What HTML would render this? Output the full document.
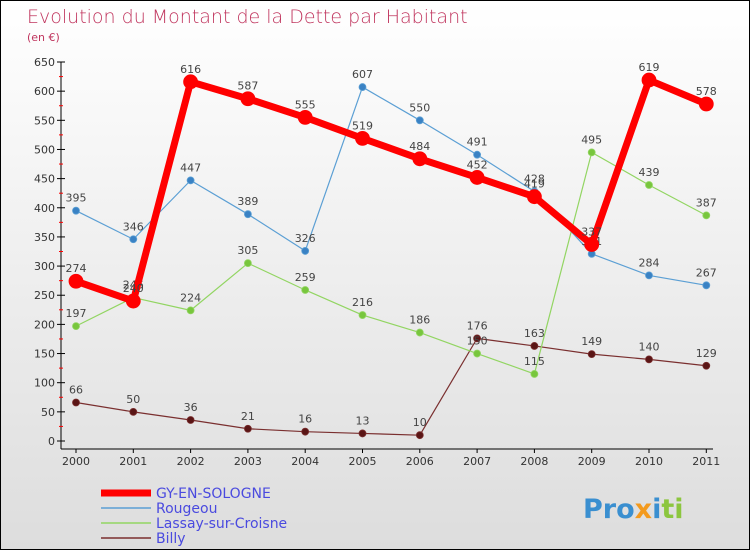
<!DOCTYPE html>
<html><head><meta charset="utf-8"><style>
body{margin:0;}
#wrap{width:748px;height:548px;border:1px solid #000;position:relative;overflow:hidden;background:linear-gradient(#fff,#ddd);font-family:"DejaVu Sans","Liberation Sans",sans-serif;}
</style></head><body>
<div id="wrap">
<svg id="svg" width="748" height="548" xmlns="http://www.w3.org/2000/svg">
<text x="26" y="22" font-size="19" fill="#c0355e" font-weight="200">Evolution du Montant de la Dette par Habitant</text>
<text x="26" y="40" font-size="11" fill="#c0355e">(en €)</text>
<g id="axes"></g><g id="series"></g><g id="legend"></g>
<text x="582" y="517" font-size="27" font-weight="bold"><tspan fill="#3a8fd0">Pro</tspan><tspan fill="#f39a1e">x</tspan><tspan fill="#3a8fd0">i</tspan><tspan fill="#8cc63f">ti</tspan></text>
</svg></div>
<script>
const years=[2000,2001,2002,2003,2004,2005,2006,2007,2008,2009,2010,2011];
const yTicks=[0,50,100,150,200,250,300,350,400,450,500,550,600,650];
const gy=[274,240,616,587,555,519,484,452,419,337,619,578];
const rougeou=[395,346,447,389,326,607,550,491,428,321,284,267];
const lassay=[197,246,224,305,259,216,186,150,115,495,439,387];
const billy=[66,50,36,21,16,13,10,176,163,149,140,129];
const NS="http://www.w3.org/2000/svg";
const X=i=>75+i*57.3;
const Y=v=>440-v*379/650;
function mk(t,a,p){const e=document.createElementNS(NS,t);for(const k in a)e.setAttribute(k,a[k]);p.appendChild(e);return e;}
const ax=document.getElementById('axes');
const yl=mk('line',{x1:60,y1:61,x2:60,y2:448,stroke:'#000'},ax);


yTicks.forEach((t,i)=>{
 mk('line',{x1:56,x2:64,y1:Y(t),y2:Y(t),stroke:'#000'},ax);
 if(i<yTicks.length-1)mk('line',{x1:58,x2:62,y1:Y(t+25),y2:Y(t+25),stroke:'red'},ax);
 const tx=mk('text',{x:54,y:Y(t)+4,'font-size':11,'text-anchor':'end',fill:'#333'},ax);tx.textContent=t;
 
 
});
const xl=mk('line',{x1:60,y1:448,x2:712,y2:448,stroke:'#000'},ax);


years.forEach((y,i)=>{
 mk('line',{x1:X(i),x2:X(i),y1:448,y2:452,stroke:'#000'},ax);
 const tx=mk('text',{x:X(i),y:464,'font-size':11,'text-anchor':'middle',fill:'#333'},ax);tx.textContent=y;
 
 
});
const sg=document.getElementById('series');
function series(d,col,dot,w,r,name){
 const g=mk('g',{},sg);
 
 
 mk('polyline',{points:d.map((v,i)=>X(i)+','+Y(v)).join(' '),fill:'none',stroke:col,'stroke-width':w,'stroke-linejoin':'round'},g);
 d.forEach((v,i)=>{
  const c=mk('circle',{cx:X(i),cy:Y(v),r:r,fill:dot,stroke:col,'stroke-width':0.8},g);
  
  
  const t=mk('text',{x:X(i),y:Y(v)-9,'font-size':11,'text-anchor':'middle',fill:'#444'},g);t.textContent=v;
  
  
 });
}
series(billy,'#7a2f2f','#5a1515',1.2,3.5,'billy-series');
series(lassay,'#92d562','#78c63d',1.2,3.5,'lassay-series');
series(rougeou,'#5b9fd4','#3a82c4',1.2,3.5,'rougeou-series');
series(gy,'#f00','#f00',7,7,'gy-series');
const lg=document.getElementById('legend');
[['GY-EN-SOLOGNE','#f00',7],['Rougeou','#5b9fd4',1.5],['Lassay-sur-Croisne','#92d562',1.5],['Billy','#7a2f2f',1.5]].forEach((e,i)=>{
 const y=492+i*15;
 const g=mk('g',{},lg);
 
 
 mk('line',{x1:100,x2:150,y1:y,y2:y,stroke:e[1],'stroke-width':e[2]},g);
 const t=mk('text',{x:155,y:y+5,'font-size':14,fill:'#4a4adf'},g);t.textContent=e[0];
});
</script>
</body></html>
